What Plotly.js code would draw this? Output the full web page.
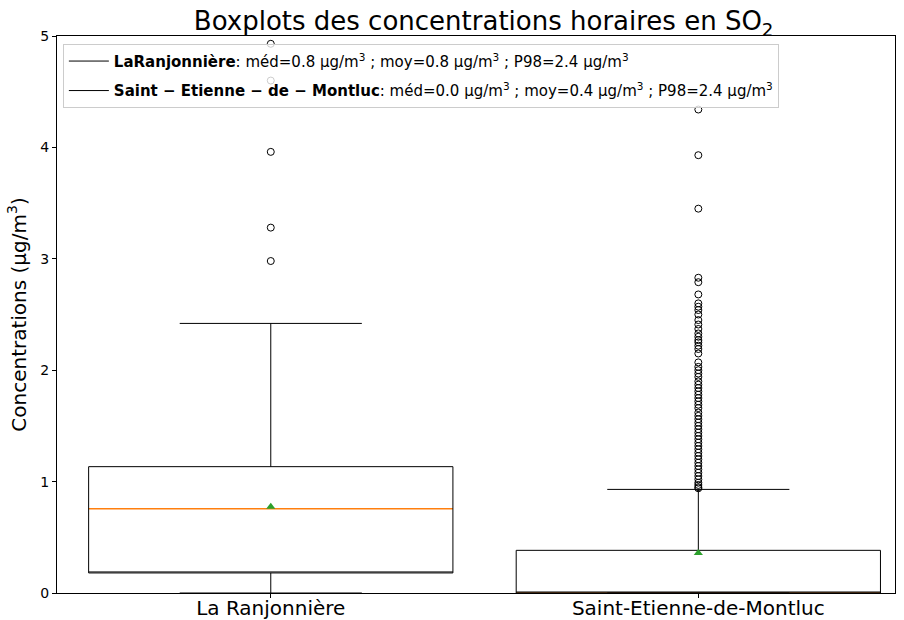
<!DOCTYPE html>
<html>
<head>
<meta charset="utf-8">
<script src="https://cdn.plot.ly/plotly-3.0.1.min.js"></script>
<style>html,body{margin:0;padding:0;background:#fff;}#chart{width:904px;height:620px;}</style>
</head>
<body>
<div id="chart"></div>
<script>
// ---- data ----
const categories = ['La Ranjonnière', 'Saint-Etienne-de-Montluc'];
const legendNames = ['LaRanjonnière', 'Saint \u2212 Etienne \u2212 de \u2212 Montluc'];
const q1 = [0.18, 0.0];
const medians = [0.757, 0.0];
const q3 = [1.134, 0.383];
const lowerFence = [0.0, 0.0];
const upperFence = [2.42, 0.93];
const means = [0.775, 0.36];
const legendMed = [0.8, 0.0];
const legendMoy = [0.8, 0.4];
const legendP98 = [2.4, 2.4];
const outliersLaRanjonniere = [4.93, 4.60, 3.96, 3.28, 2.98];
const outliersSaintEtienne = [4.34, 3.93, 3.45, 2.83, 2.79, 2.68, 2.60, 2.57, 2.54, 2.50, 2.45, 2.41,
  2.37, 2.33, 2.30, 2.27, 2.25, 2.22, 2.19, 2.15, 2.07, 2.03, 2.00, 1.97, 1.94, 1.90, 1.87, 1.84,
  1.81, 1.78, 1.75, 1.72, 1.69, 1.66, 1.62, 1.59, 1.56, 1.53, 1.50, 1.47, 1.44, 1.41, 1.38, 1.35,
  1.32, 1.29, 1.26, 1.23, 1.20, 1.17, 1.14, 1.11, 1.08, 1.05, 1.02, 0.99, 0.97, 0.95, 0.94];
const outliers = [outliersLaRanjonniere, outliersSaintEtienne];

// ---- traces ----
const FONT = 'DejaVu Sans, sans-serif';
const BOXW = 0.852;
const traces = [];

// orange median lines (drawn first so the black box edges sit on top)
traces.push({
  type: 'box', x: categories, q1: medians, median: medians, q3: medians,
  lowerfence: medians, upperfence: medians, width: BOXW,
  fillcolor: 'rgba(0,0,0,0)', line: {color: '#ff7f0e', width: 1.5},
  whiskerwidth: 0, boxpoints: false, showlegend: false, hoverinfo: 'skip'
});
traces.push({
  type: 'box', x: categories, q1: q1, median: q1, q3: q3,
  lowerfence: lowerFence, upperfence: upperFence, width: BOXW,
  fillcolor: 'rgba(0,0,0,0)', line: {color: '#000000', width: 1},
  whiskerwidth: 0.5, boxpoints: false, showlegend: false, hoverinfo: 'skip'
});
// outliers
outliers.forEach((vals, i) => {
  traces.push({
    type: 'scatter', mode: 'markers',
    x: vals.map(() => categories[i]), y: vals,
    marker: {symbol: 'circle-open', size: 7, color: '#000000', line: {width: 1, color: '#000000'}},
    showlegend: false, hoverinfo: 'y'
  });
});
// means
traces.push({
  type: 'scatter', mode: 'markers', x: categories, y: means,
  marker: {symbol: 'triangle-up', size: 8, color: '#2ca02c'},
  showlegend: false, hoverinfo: 'y'
});
// legend entries
legendNames.forEach((n, i) => {
  traces.push({
    type: 'scatter', mode: 'lines', x: [null], y: [null],
    line: {color: '#000000', width: 1}, legendgroup: 'g' + i,
    name: '<b>' + n + '</b>: méd=' + legendMed[i].toFixed(1) + ' µg/m<sup>3</sup> ; moy=' +
      legendMoy[i].toFixed(1) + ' µg/m<sup>3</sup> ; P98=' + legendP98[i].toFixed(1) + ' µg/m<sup>3</sup>',
    showlegend: true, hoverinfo: 'skip'
  });
});

const layout = {
  width: 904, height: 620,
  margin: {l: 57, r: 9, t: 36, b: 27, pad: 0},
  paper_bgcolor: '#ffffff', plot_bgcolor: '#ffffff',
  font: {family: FONT, color: '#000000'},
  title: {text: 'Boxplots des concentrations horaires en SO<sub>2</sub>',
    font: {family: FONT, size: 26, color: '#000000'},
    x: 0.535, xanchor: 'center', xref: 'container', y: 0.966, yanchor: 'middle', yref: 'container'},
  boxmode: 'overlay',
  xaxis: {type: 'category', range: [-0.5, 1.46], showgrid: false, zeroline: false,
    showline: true, mirror: true, linecolor: '#000000', linewidth: 1,
    ticks: 'outside', ticklen: 4, tickcolor: '#000000', ticklabelstandoff: -7,
    tickfont: {family: FONT, size: 20, color: '#000000'}},
  yaxis: {range: [0, 5], tickvals: [0, 1, 2, 3, 4, 5], showgrid: false, zeroline: false,
    showline: true, mirror: true, linecolor: '#000000', linewidth: 1,
    ticks: 'outside', ticklen: 4, tickcolor: '#000000',
    tickfont: {family: FONT, size: 14, color: '#000000'},
    title: {text: 'Concentrations (µg/m<sup>3</sup>)', font: {family: FONT, size: 20, color: '#000000'}, standoff: 8}},
  showlegend: true,
  legend: {x: 0.007, y: 0.986, xanchor: 'left', yanchor: 'top',
    bgcolor: 'rgba(255,255,255,0.8)', bordercolor: '#cccccc', borderwidth: 1,
    itemwidth: 40, traceorder: 'grouped',
    font: {family: FONT, size: 15, color: '#000000'}, tracegroupgap: 7}
};

Plotly.newPlot('chart', traces, layout, {displayModeBar: false, staticPlot: true});
</script>
</body>
</html>
